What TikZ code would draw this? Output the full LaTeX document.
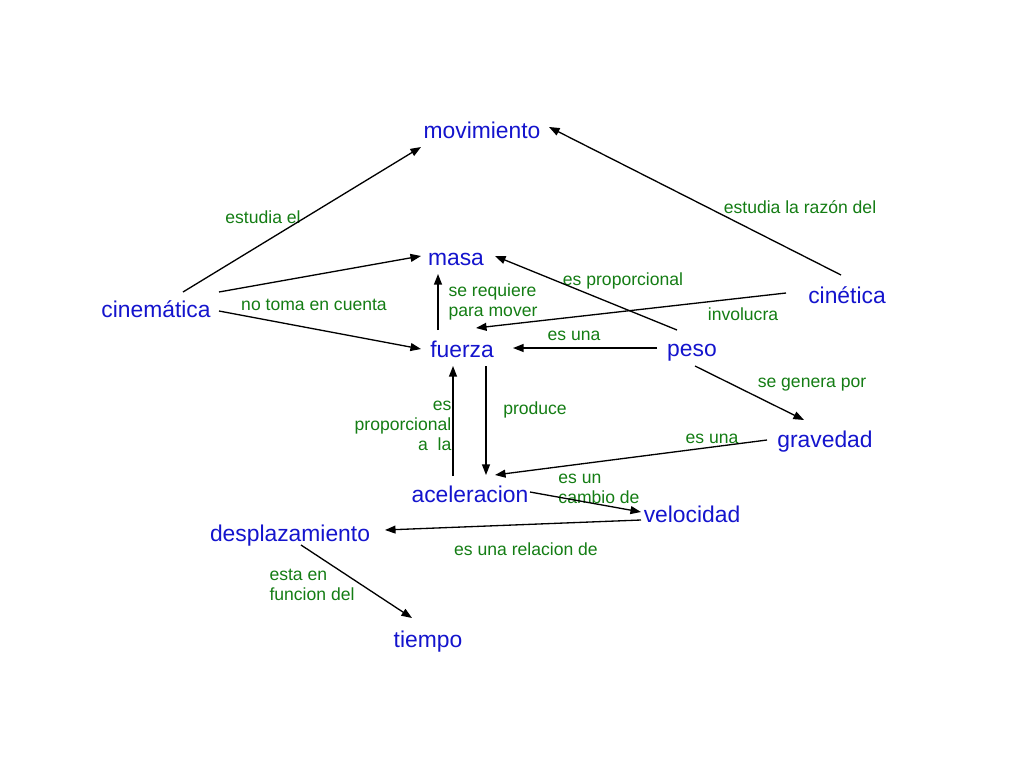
\documentclass[tikz,border=0pt]{standalone}
\usepackage{fontspec}
\setmainfont{Liberation Sans}
\usetikzlibrary{arrows.meta,calc}
\definecolor{conceptblue}{RGB}{20,20,205}
\definecolor{linkgreen}{RGB}{20,125,20}

\begin{document}
\begin{tikzpicture}[x=0.02cm,y=-0.02cm,
  concept/.style={text=conceptblue,font=\fontsize{13}{15}\selectfont,inner sep=0pt},
  link/.style={text=linkgreen,font=\fontsize{10}{11.4}\selectfont,inner sep=0pt},
  rel/.style={-{Triangle[length=6pt,width=4.5pt]},line width=0.75pt}]
\useasboundingbox[fill=white] (0,0) rectangle (1024,768);

% Concepts
\node[concept] (mov) at (482,130) {movimiento};
\node[concept] (masa) at (456,259) {masa};
\node[concept] (cinem) at (156,309) {cinemática};
\node[concept] (cinet) at (847,295) {cinética};
\node[concept] (fuerza) at (462,349) {fuerza};
\node[concept] (peso) at (692,353) {peso};
\node[concept] (grav) at (825,442) {gravedad};
\node[concept] (acel) at (470,494) {aceleracion};
\node[concept] (vel) at (692,514) {velocidad};
\node[concept] (desp) at (290,536) {desplazamiento};
\node[concept] (tiempo) at (428,642) {tiempo};

% Link words
\node[link] (l1) at (263,217) {estudia el};
\node[link] (l2) at (800,207) {estudia la razón del};
\node[link] (l3) at (623,281) {es proporcional};
\node[link,align=left] (l4) at (493,302) {se requiere\\para mover};
\node[link] (l5) at (314,305) {no toma en cuenta};
\node[link] (l6) at (743,314) {involucra};
\node[link] (l7) at (574,336) {es una};
\node[link] (l8) at (812,385) {se genera por};
\node[link,align=right] (l9) at (403,426) {es\\proporcional\\a~ la};
\node[link] (l10) at (535,410) {produce};
\node[link] (l11) at (712,439) {es una};
\node[link,align=left] (l12) at (599,489) {es un\\cambio de};
\node[link] (l13) at (526,549) {es una relacion de};
\node[link,align=left] (l14) at (312,585) {esta en\\funcion del};

% Relations
\draw[rel] ($(cinem)+(27,-17)$) -- ($(mov)+(-61,17)$);
\draw[rel] ($(cinet)+(-6,-20)$) -- ($(mov)+(67,-3)$);
\draw[rel] ($(cinem)+(63,-17)$) -- ($(masa)+(-35,-3)$);
\draw[rel] ($(cinem)+(63,2)$) -- ($(fuerza)+(-41,0)$);
\draw[rel] ($(fuerza)+(-24,-19)$) -- ($(masa)+(-18,15)$);
\draw[rel] ($(peso)+(-15,-23)$) -- ($(masa)+(39,-3)$);
\draw[rel] ($(cinet)+(-61,-2)$) -- ($(fuerza)+(14,-21)$);
\draw[rel] ($(peso)+(-35,-5)$) -- ($(fuerza)+(51,-1)$);
\draw[rel] ($(peso)+(3,13)$) -- ($(grav)+(-21,-22)$);
\draw[rel] ($(fuerza)+(24,17)$) -- ($(acel)+(16,-19)$);
\draw[rel] ($(acel)+(-17,-18)$) -- ($(fuerza)+(-9,17)$);
\draw[rel] ($(grav)+(-58,-2)$) -- ($(acel)+(25,-19)$);
\draw[rel] ($(acel)+(60,-2)$) -- ($(vel)+(-51,-2)$);
\draw[rel] ($(vel)+(-51,6)$) -- ($(desp)+(95,-6)$);
\draw[rel] ($(desp)+(11,9)$) -- ($(tiempo)+(-16,-24)$);
\end{tikzpicture}
\end{document}
